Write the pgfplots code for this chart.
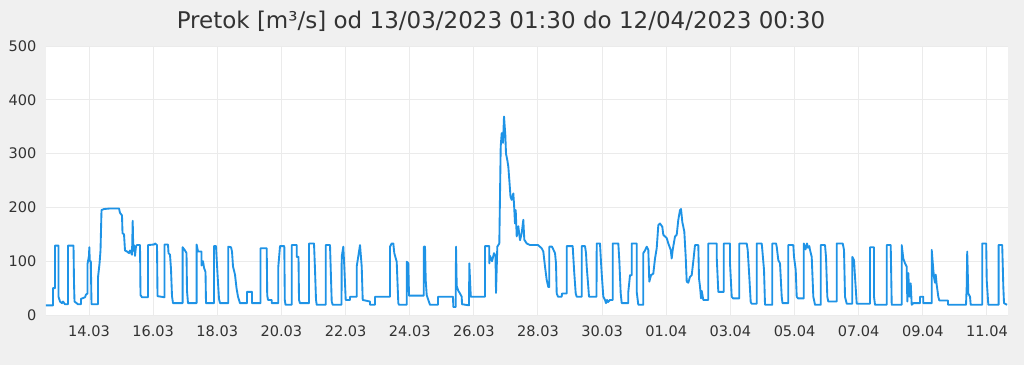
\documentclass[border=0pt]{standalone}
\usepackage{pgfplots}
\pgfplotsset{compat=1.18}
\usepackage{pgfplotstable}
\usepackage{fontspec}
\setmainfont{DejaVu Sans}
\definecolor{bg}{HTML}{F0F0F0}
\definecolor{gridc}{HTML}{EBEBEB}
\definecolor{linec}{HTML}{1E93E6}
\definecolor{txt}{HTML}{333333}
\pgfplotstableread{
px v
45 18
53 18
53 50
55 50
55 129
58.5 129
58.5 34
60 25
62 22
63 25
65 20
68 20
68 129
73.5 129
74 60
74.5 25
78 20
81 20
81 30
85 33
86 38
87.5 40
87.5 95
89 110
89.3 126
89.8 100
90.8 100
91.5 20
98 20
98 70
99.5 95
100.5 120
101.5 195
104 197
110 198
119 198
120 190
122 185
122.5 152
124 150
125 120
127 118
129 115
130 120
132 112
132.7 175
133.3 120
134 130
135 110
136 128
137 130
140 130
140.5 37
142 33
148 33
148 130
154 131
155 133
157 130
157.5 35
164.5 33
164.5 131
168 131
168.5 115
170 112
171 85
172 35
173 22
182.6 22
182.6 126
185 120
186.5 115
187 45
188 22
196.6 22
196.6 131
198 118
201.5 118
201.5 92
203 100
204 88
205.5 80
206 22
214 22
214 128
216 128
216.5 110
218 60
219 30
220 22
228.3 22
228.3 127
231 126
232 118
233 90
235 75
236.5 50
238 34
240 22
247 22
247 43
252 43
252 22
260.5 22
260.5 124
266.7 124
267.2 37
268 28
271.7 28
271.7 22
278.3 22
278.3 90
280 128
284.3 128
284.8 28
285.5 19
291.7 19
291.7 130
296.7 130
296.7 108
298.5 108
299 28
300 22
309 22
309 133
314 133
315 84
316 28
316.7 19
325.7 19
325.7 130
330 130
330.7 87
331.7 25
332.7 19
341.5 19
341.7 108
343.3 127
344.3 90
345.7 28
350 28
350 34
356.7 34
356.7 90
360 130
361.7 90
362.7 28
370 25
370 19
375 19
375 34
390 34
390 127
391.7 133
393.3 133
394.3 115
396.7 99
398.3 22
399 19
406.7 19
406.7 99
408.3 96
409 36
423.8 36
423.8 127
425 127
425.7 65
426.7 37
428.3 28
430 19
438 19
438 34
453 34
453.3 15
455.7 15
456 127
456.7 54
458.3 45
460 40
461.7 34
462 20
469 18
469.3 96
470.7 37
471 34
485 34
485 128
489.3 128
489.3 96
490 110
492 100
494 115
495.5 110
496 41
497.3 127
499.3 133
500.7 313
501.7 338
503 320
504 369
505.3 335
506 300
507.3 288
508.3 276
509.3 251
510.5 220
511.7 214
513.3 226
514 207
515 170
515.7 195
516.7 146
518.3 165
520 139
521.7 152
523.3 177
524.3 140
526.7 133
530 130
538 130
541.7 124
543.3 118
545 90
546.7 65
548.3 52
549.3 52
549.3 127
552 127
555 115
556 96
556.7 40
558 34
561.7 34
562 40
566.7 40
566.7 128
572.7 128
573.3 108
574.3 77
575.7 40
576.7 34
581.7 34
581.7 128
585 128
586 115
586.7 90
588.3 52
589 34
596.5 34
596.7 133
600 133
600.7 108
601.7 77
603.3 34
605 28
606 22
607 28
608 24
610 28
612.7 28
612.7 133
618.3 133
619.3 102
620.7 40
621.7 22
628.3 22
628.3 43
630 74
631.7 74
631.7 133
636.7 133
636.7 43
638.3 19
643.3 19
643.3 115
645 120
646.7 127
648.3 121
649.3 62
651 74
653.3 77
655 105
656.7 124
658.3 167
660 170
662.3 164
663.3 149
666.7 143
668.3 133
670.7 121
671.7 105
672.7 121
675 146
676.7 149
678.3 177
680 195
681 197
682.3 173
684.3 155
685.7 108
686.7 62
688.3 60
690 71
691.7 74
693.3 100
695 130
698.3 130
699 68
700 53
701 31
701.7 45
703.3 28
708.3 28
708.3 133
716.7 133
716.7 108
718.3 43
723.8 43
723.8 133
730 133
730 96
731.7 34
733 31
739.3 31
739.3 133
746.7 133
747.7 121
749.3 71
750.7 24
751.7 21
756.7 21
756.7 133
761.7 133
762.3 121
764 84
765 19
772.3 19
772.3 133
776 133
776.7 127
778.3 102
780 96
781.7 34
782.5 22
788.3 22
788.3 130
793.3 130
794 108
795.7 84
796.7 34
798 31
803.8 31
803.8 133
805.5 122
807 133
808 125
809.3 128
810 121
811.7 108
813.3 34
815 19
820.8 19
820.8 130
825 130
826 108
827.3 34
828.3 25
836.7 25
836.7 133
842.7 133
844 121
845 34
846.7 21
852.3 21
852.3 108
854 102
855 71
856.7 21
870 21
870 126
874 126
874 34
875 19
886.7 19
886.7 130
890.7 130
891.7 19
901.7 19
901.7 130
903.3 105
905 96
906.7 90
907.3 25
908.3 78
909.3 34
910.7 59
911.7 19
913.3 22
920 22
920 34
923.3 34
923.3 22
931.7 22
931.7 121
933.3 84
934 70
935 60
935.7 75
936.7 56
938.3 34
939.3 27
948 27
948 19
966 19
966.7 53
967.2 118
968.3 40
970 34
970.7 19
982.2 19
982.2 133
986.2 133
986.7 65
988.3 19
998.6 19
998.6 130
1002.2 130
1003.3 53
1004 22
1007 19
}\flowdata
\begin{document}
\begin{tikzpicture}
\fill[bg] (0pt,0pt) rectangle (768pt,273.75pt);
\useasboundingbox (0pt,0pt) rectangle (768pt,273.75pt);
\node[anchor=base, text=txt, inner sep=0pt, font=\fontsize{17.25}{20}\selectfont] at (375.75pt,252pt) {Pretok [m³/s] od 13/03/2023 01:30 do 12/04/2023 00:30};
\begin{axis}[
  at={(34.5pt,37.5pt)}, anchor=south west,
  scale only axis, width=721.5pt, height=201.75pt,
  xmin=-0.341, xmax=29.656, ymin=0, ymax=500,
  xtick={1,3,...,29},
  xticklabels={14.03,16.03,18.03,20.03,22.03,24.03,26.03,28.03,30.03,01.04,03.04,05.04,07.04,09.04,11.04},
  ytick={0,100,...,500},
  grid=major,
  major grid style={draw=gridc, line width=0.75pt},
  axis line style={draw=none},
  major tick length=0pt,
  axis background/.style={fill=white},
  tick label style={text=txt, font=\fontsize{10.9}{13}\selectfont},
  yticklabel style={anchor=east, inner sep=0pt, xshift=-7pt},
  xticklabel style={anchor=north, inner sep=0pt, yshift=-7.5pt},
  /pgf/number format/assume math mode=true,
  x filter/.expression={1+(x-89)/32.07},
]
\addplot[linec, line width=1.4pt, line join=round, mark=none] table[x=px, y=v] {\flowdata};
\end{axis}
\end{tikzpicture}
\end{document}
